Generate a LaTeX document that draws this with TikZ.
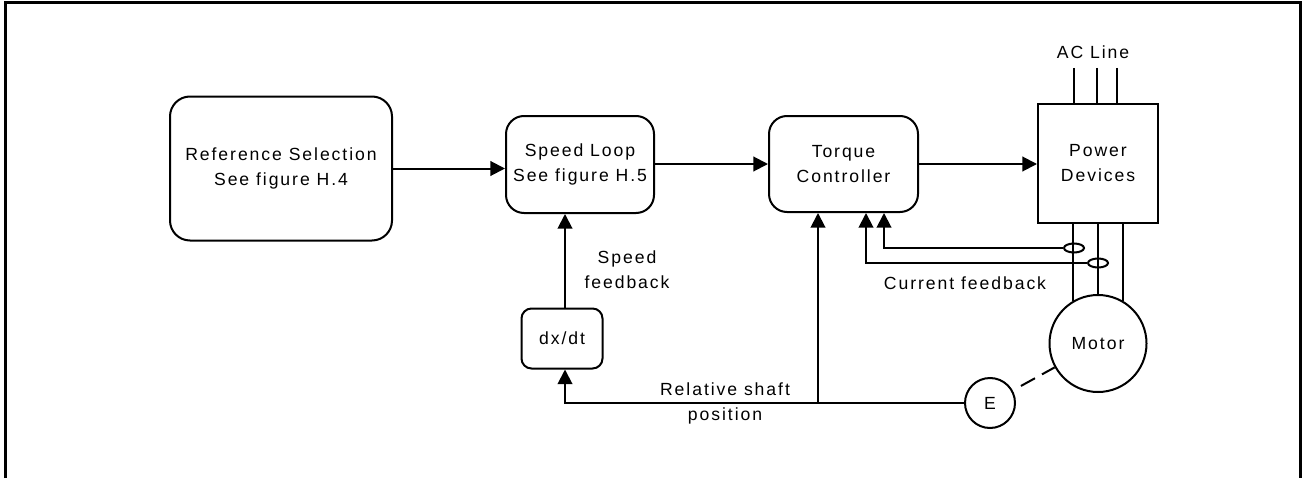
\documentclass[tikz,border=0pt]{standalone}
\usepackage{fontspec}
\setmainfont{Liberation Sans}[LetterSpace=11]
\usetikzlibrary{arrows.meta,shapes.geometric}
\begin{document}
\begin{tikzpicture}[x=0.75pt,y=-0.75pt,
  line width=1.5pt,
  every node/.style={font=\fontsize{13.2pt}{18.75pt}\selectfont, align=center},
  rbox/.style={draw, rounded corners=#1, inner sep=0pt},
  arr/.style={-{Triangle[length=11pt,width=11pt]}},
  ring/.style={draw, ellipse, minimum width=15pt, minimum height=6.75pt, inner sep=0pt, line width=1.5pt},
  lbl/.style={inner sep=0pt}]
\useasboundingbox (0,0) rectangle (1302,478);
% frame
\draw[line width=2.25pt] (5.3,478) -- (5.3,3) -- (1300.5,3) -- (1300.5,478);
% blocks
\node[rbox=15pt, minimum width=166.5pt, minimum height=108pt] (ref) at (281,168.5) {Reference Selection\\See figure H.4};
\node[rbox=13.5pt, minimum width=111pt, minimum height=72.75pt] (speed) at (580,164.5) {Speed Loop\\See figure H.5};
\node[rbox=13.5pt, minimum width=111.75pt, minimum height=72pt] (torque) at (843.5,164) {Torque\\Controller};
\node[draw, inner sep=0pt, minimum width=90pt, minimum height=89.25pt] (power) at (1098,163.5) {Power\\Devices};
\node[rbox=7.5pt, minimum width=60.75pt, minimum height=45pt] (dxdt) at (562,338.5) {dx/dt};
\node[draw, circle, inner sep=0pt, minimum size=72.75pt] (motor) at (1098,343.5) {Motor};
\node[draw, circle, inner sep=0pt, minimum size=37.5pt] (enc) at (990,403) {E};
% AC line
\node[lbl] (ac) at (1093,52) {AC Line};
\coordinate (ac1) at (1074,68);
\coordinate (ac2) at (1097,68);
\coordinate (ac3) at (1117,68);
\draw (ac1) -- (ac1 |- power.north);
\draw (ac2) -- (ac2 |- power.north);
\draw (ac3) -- (ac3 |- power.north);
% motor leads
\draw (power.south -| motor.120) -- (motor.120);
\draw (power.south -| motor.north) -- (motor.north);
\draw (power.south -| motor.60) -- (motor.60);
% main chain
\draw[arr] (ref.east) -- (ref.east -| speed.west);
\draw[arr] (speed.east |- torque.west) -- (torque.west);
\draw[arr] (torque.east) -- (torque.east -| power.west);
% current feedback
\node[ring] (ct1) at (1074,248) {};
\node[ring] (ct2) at (1098,263) {};
\coordinate (cf1) at (884,248);
\coordinate (cf2) at (866,263);
\draw[arr] (ct1.west) -- (cf1) -- (cf1 |- torque.south);
\draw[arr] (ct2.west) -- (cf2) -- (cf2 |- torque.south);
\node[lbl] (cfl) at (965,283) {Current feedback};
% encoder and shaft position
\draw[dash pattern=on 12pt off 6pt, shorten <=7pt] (enc) -- (motor);
\coordinate (sh) at (565,403);
\coordinate (br) at (818,403);
\draw[arr] (enc.west) -- (sh) -- (sh |- dxdt.south);
\draw[arr] (br) -- (br |- torque.south);
\node[lbl] (rsp) at (725,403) {Relative shaft\\position};
% speed feedback
\draw[arr] (dxdt.north -| sh) -- (sh |- speed.south);
\node[lbl] (sfb) at (627,270) {Speed\\feedback};
\end{tikzpicture}
\end{document}
